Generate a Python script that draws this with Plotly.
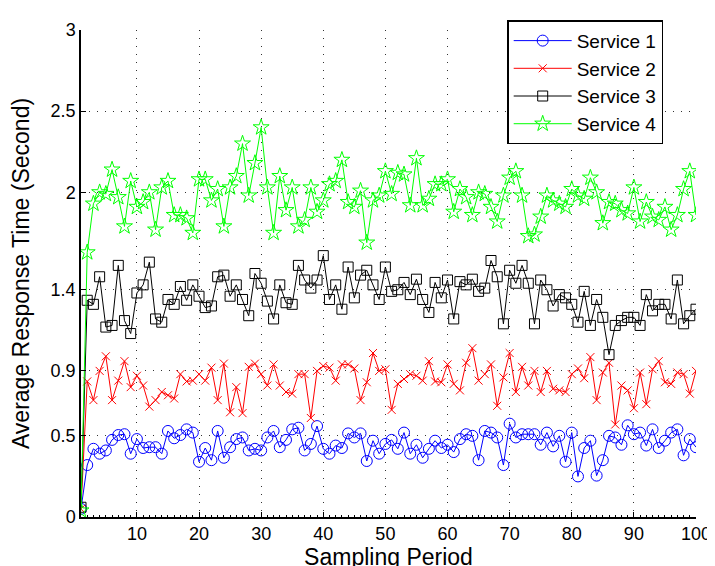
import plotly.graph_objects as go

periods = list(range(1, 101))

service1 = [0.05, 0.32, 0.42, 0.39, 0.41, 0.475, 0.505, 0.51, 0.39, 0.48,
            0.425, 0.43, 0.43, 0.39, 0.53, 0.485, 0.505, 0.54, 0.52, 0.34,
            0.425, 0.35, 0.53, 0.365, 0.43, 0.48, 0.49, 0.41, 0.42, 0.41,
            0.49, 0.53, 0.43, 0.475, 0.54, 0.55, 0.41, 0.45, 0.56, 0.42,
            0.39, 0.44, 0.425, 0.515, 0.49, 0.515, 0.345, 0.47, 0.39, 0.45,
            0.475, 0.42, 0.52, 0.39, 0.445, 0.365, 0.42, 0.47, 0.425, 0.445,
            0.40, 0.48, 0.51, 0.50, 0.35, 0.53, 0.52, 0.49, 0.32, 0.575,
            0.49, 0.51, 0.51, 0.51, 0.445, 0.52, 0.435, 0.50, 0.34, 0.52,
            0.25, 0.425, 0.47, 0.255, 0.35, 0.50, 0.49, 0.445, 0.565, 0.51,
            0.52, 0.44, 0.54, 0.425, 0.47, 0.52, 0.54, 0.38, 0.48, 0.43]

service2 = [0.05, 0.835, 0.72, 0.90, 0.99, 0.72, 0.84, 0.96, 0.80, 0.87,
            0.81, 0.68, 0.72, 0.77, 0.75, 0.73, 0.88, 0.835, 0.84, 0.88,
            0.84, 0.92, 0.72, 0.945, 0.645, 0.80, 0.64, 0.925, 0.945, 0.88,
            0.81, 0.94, 0.81, 0.77, 0.76, 0.88, 0.88, 0.61, 0.90, 0.93,
            0.92, 0.84, 0.94, 0.94, 0.915, 0.72, 0.83, 1.01, 0.90, 0.91,
            0.66, 0.82, 0.85, 0.88, 0.87, 0.84, 0.96, 0.835, 0.83, 0.94,
            0.82, 0.78, 0.95, 1.04, 0.84, 0.88, 0.94, 0.685, 0.86, 1.01,
            0.77, 0.925, 0.81, 0.90, 0.77, 0.90, 0.79, 0.78, 0.77, 0.88,
            0.915, 0.855, 0.985, 0.72, 0.89, 0.95, 0.57, 0.81, 0.78, 0.67,
            0.89, 0.695, 0.91, 0.96, 0.83, 0.82, 0.89, 0.88, 0.76, 0.90]

service3 = [0.06, 1.335, 1.31, 1.48, 1.17, 1.18, 1.55, 1.21, 1.13, 1.38,
            1.43, 1.57, 1.22, 1.20, 1.34, 1.31, 1.42, 1.335, 1.43, 1.36,
            1.29, 1.30, 1.48, 1.49, 1.36, 1.43, 1.34, 1.24, 1.50, 1.44,
            1.33, 1.22, 1.43, 1.32, 1.31, 1.55, 1.46, 1.41, 1.46, 1.61,
            1.34, 1.43, 1.28, 1.54, 1.35, 1.49, 1.52, 1.43, 1.34, 1.54,
            1.39, 1.40, 1.445, 1.37, 1.465, 1.34, 1.26, 1.445, 1.35, 1.46,
            1.22, 1.45, 1.43, 1.465, 1.39, 1.41, 1.58, 1.48, 1.19, 1.52,
            1.44, 1.55, 1.44, 1.19, 1.46, 1.40, 1.30, 1.37, 1.35, 1.31,
            1.20, 1.39, 1.18, 1.34, 1.23, 1.00, 1.18, 1.21, 1.23, 1.23,
            1.18, 1.37, 1.27, 1.31, 1.31, 1.22, 1.46, 1.19, 1.24, 1.28]

service4 = [0.04, 1.63, 1.93, 2.00, 1.99, 2.14, 1.97, 1.79, 2.07, 1.91,
            1.94, 2.00, 1.77, 2.03, 2.07, 1.86, 1.86, 1.84, 1.75, 2.08,
            2.08, 1.95, 2.02, 1.79, 2.03, 2.10, 2.30, 1.98, 2.18, 2.40,
            2.03, 1.75, 2.10, 1.89, 2.03, 1.79, 1.83, 2.03, 1.88, 1.95,
            2.05, 2.07, 2.20, 1.94, 1.91, 2.01, 1.69, 1.95, 1.98, 2.13,
            1.99, 2.12, 2.11, 1.92, 2.21, 1.92, 1.96, 2.05, 2.05, 2.08,
            1.88, 2.02, 1.97, 1.86, 2.00, 1.99, 1.91, 1.82, 1.98, 2.09,
            2.13, 1.98, 1.73, 1.74, 1.85, 1.98, 1.95, 1.93, 1.91, 2.02,
            1.98, 1.96, 2.09, 2.00, 1.81, 1.94, 1.93, 1.89, 1.87, 2.03,
            1.82, 1.94, 1.85, 1.83, 1.91, 1.77, 1.86, 2.02, 2.13, 1.86]

series_names = ["Service 1", "Service 2", "Service 3", "Service 4"]
x_ticks = [10, 20, 30, 40, 50, 60, 70, 80, 90, 100]
y_ticks = [0, 0.5, 0.9, 1.4, 2, 2.5, 3]
y_tick_labels = ["0", "0.5", "0.9", "1.4", "2", "2.5", "3"]

styles = [
    ("#0000FF", "circle-open", 11),
    ("#FF0000", "x-thin-open", 8),
    ("#000000", "square-open", 10),
    ("#00FF00", "star-open", 12),
]

fig = go.Figure()
for name, vals, (col, sym, sz) in zip(series_names,
                                      [service1, service2, service3, service4],
                                      styles):
    fig.add_trace(go.Scatter(
        x=periods, y=vals, name=name, mode="lines+markers",
        line=dict(color=col, width=1),
        marker=dict(symbol=sym, size=sz, color=col, line=dict(color=col, width=1)),
    ))

font_family = "Liberation Sans, Arial, sans-serif"
grid_dash = "1px,7px"

fig.update_layout(
    width=715, height=566,
    margin=dict(l=73, r=16, t=22, b=53),
    paper_bgcolor="white", plot_bgcolor="white",
    font=dict(family=font_family, size=18, color="black"),
    showlegend=True,
    legend=dict(
        x=0.693, y=1.02, xanchor="left", yanchor="top",
        bordercolor="black", borderwidth=1.5, bgcolor="white",
        font=dict(family=font_family, size=19, color="black"),
        itemwidth=58, tracegroupgap=0,
    ),
)

fig.update_xaxes(
    range=[1, 100], tickmode="array", tickvals=x_ticks,
    showline=True, linecolor="black", linewidth=1.5,
    ticks="inside", ticklen=5, tickcolor="black",
    showgrid=True, gridcolor="#333333", griddash=grid_dash, gridwidth=1,
    zeroline=False,
    minor=dict(dtick=1, ticks="inside", ticklen=2, tickcolor="black", showgrid=False),
    title=dict(text="Sampling Period", font=dict(size=23), standoff=2),
    tickfont=dict(size=18),
)
fig.update_yaxes(
    range=[0, 3], tickmode="array", tickvals=y_ticks, ticktext=y_tick_labels,
    showline=True, linecolor="black", linewidth=1.5,
    ticks="inside", ticklen=5, tickcolor="black",
    showgrid=True, gridcolor="#333333", griddash=grid_dash, gridwidth=1,
    zeroline=False,
    title=dict(text="Average Response Time (Second)", font=dict(size=23), standoff=15),
    tickfont=dict(size=18),
)

fig.write_html("out.html")
